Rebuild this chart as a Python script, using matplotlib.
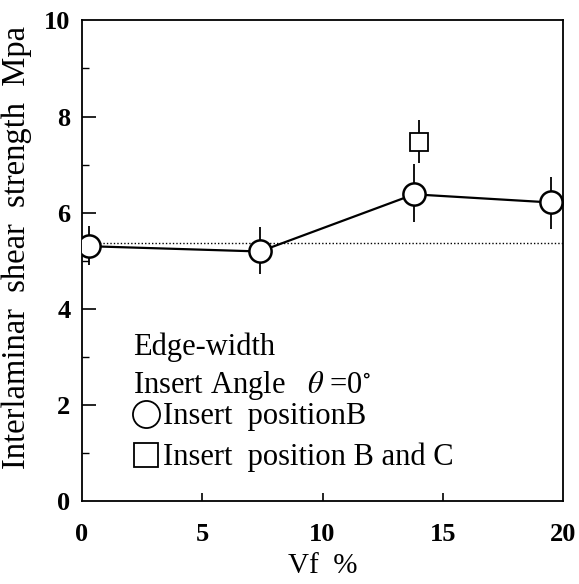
import matplotlib
matplotlib.use("Agg")
import matplotlib.pyplot as plt
from matplotlib.lines import Line2D
from matplotlib.ticker import MultipleLocator

# insert position B (circles, joined by a line)
vf_b = [0.3, 7.4, 13.8, 19.5]
ilss_b = [5.30, 5.19, 6.38, 6.21]
err_lo_b = [0.40, 0.47, 0.58, 0.55]
err_hi_b = [0.43, 0.52, 0.64, 0.53]

# insert position B and C (single square)
vf_bc = [14.0]
ilss_bc = [7.47]
err_lo_bc = [0.43]
err_hi_bc = [0.46]

# reference level (dotted)
ref_level = 5.36
ref_span = [0.3, 20]

SERIF = ["Liberation Serif", "DejaVu Serif"]
plt.rcParams.update({
    "font.family": SERIF,
    "font.size": 17,
    "axes.linewidth": 1.3,
    "mathtext.fontset": "stix",
})

fig = plt.figure(figsize=(5.79, 5.84), dpi=100)
ax = fig.add_axes([0.141, 0.1425, 0.832, 0.8225])

ax.hlines(ref_level, ref_span[0], ref_span[1], colors="black",
          linestyles=(0, (1, 1.5)), lw=1.0, zorder=1)

ax.errorbar(vf_b, ilss_b, yerr=[err_lo_b, err_hi_b], fmt="-o", color="black",
            mfc="white", mec="black", ms=16, mew=1.8, lw=1.6,
            elinewidth=1.3, capsize=0, zorder=3)
ax.errorbar(vf_bc, ilss_bc, yerr=[err_lo_bc, err_hi_bc], fmt="s", color="black",
            mfc="white", mec="black", ms=13, mew=1.3,
            elinewidth=1.3, capsize=0, zorder=3)

ax.set_xlim(0, 20)
ax.set_ylim(0, 10)
ax.xaxis.set_major_locator(MultipleLocator(5))
ax.yaxis.set_major_locator(MultipleLocator(2))
ax.yaxis.set_minor_locator(MultipleLocator(1))
ax.tick_params(axis="y", which="major", direction="in", length=10, width=1.2,
               right=False, pad=8, labelsize=19)
ax.tick_params(axis="y", which="minor", direction="in", length=5, width=1.0,
               right=False)
ax.tick_params(axis="x", which="major", direction="in", length=6, width=1.2,
               top=False, pad=16, labelsize=19)
for lab in ax.get_xticklabels() + ax.get_yticklabels():
    lab.set_fontweight("bold")
# no tick marks on the corners
for t in ax.xaxis.get_major_ticks():
    if t.get_loc() in (0, 20):
        t.tick1line.set_visible(False)
for t in ax.yaxis.get_major_ticks():
    if t.get_loc() in (0, 10):
        t.tick1line.set_visible(False)

ax.set_xlabel("Vf  %", fontsize=21, labelpad=5)
ax.set_ylabel("Interlaminar  shear  strength  Mpa", fontsize=23.5)
ax.yaxis.set_label_coords(-0.104, 0.527)

tx = 2.15
ax.text(tx, 3.2, "Edge-width", fontsize=22, va="center")
ax.text(tx, 2.41, r"Insert Angle   $\theta$ =0$^{\circ}$", fontsize=22,
        va="center")

keys = [
    Line2D([], [], ls="none", marker="o", ms=19.5, mfc="white", mec="black",
           mew=1.3),
    Line2D([], [], ls="none", marker="s", ms=17, mfc="white", mec="black",
           mew=1.3),
]
ax.legend(keys, ["Insert  positionB", "Insert  position B and C"],
          loc="upper left", bbox_to_anchor=(0.1085, 0.205), frameon=False,
          fontsize=22, borderpad=0, borderaxespad=0, handlelength=0.8,
          handletextpad=0.14, labelspacing=0.38)

fig.savefig("out.png", dpi=100)
